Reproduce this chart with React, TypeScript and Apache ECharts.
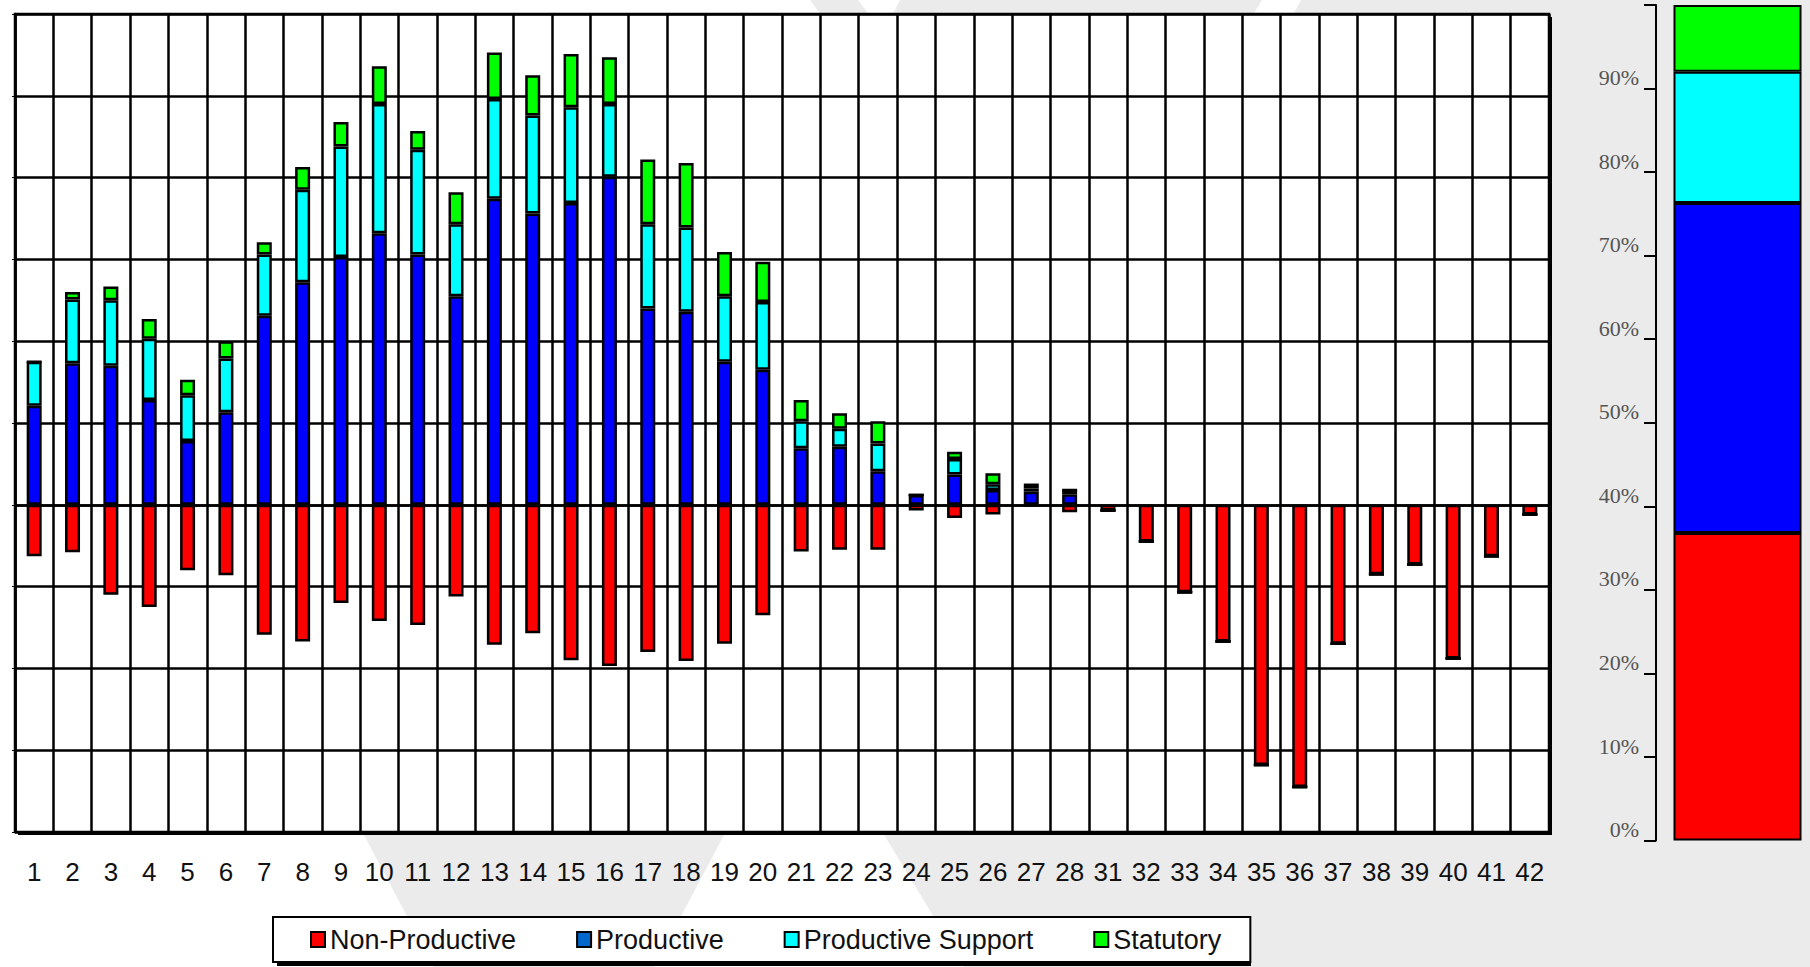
import React, { useEffect, useRef } from 'react';
import * as echarts from 'echarts';

const categories = ['1', '2', '3', '4', '5', '6', '7', '8', '9', '10', '11', '12', '13', '14', '15', '16', '17', '18', '19', '20', '21', '22', '23', '24', '25', '26', '27', '28', '31', '32', '33', '34', '35', '36', '37', '38', '39', '40', '41', '42'];

const nonProductive = [-6.3, -5.8, -11.0, -12.5, -8.0, -8.6, -15.9, -16.7, -12.0, -14.2, -14.7, -11.2, -17.1, -15.7, -19.0, -19.7, -18.0, -19.1, -17.0, -13.5, -5.7, -5.5, -5.5, -0.7, -1.6, -1.2, -0.2, -0.9, -0.7, -4.5, -10.7, -16.7, -31.8, -34.5, -17.0, -8.5, -7.3, -18.8, -6.3, -1.2];
const productive = [12.1, 17.3, 17.0, 12.8, 7.8, 11.3, 23.1, 27.2, 30.3, 33.2, 30.6, 25.5, 37.4, 35.6, 36.9, 40.1, 24.0, 23.6, 17.5, 16.5, 6.9, 7.1, 4.1, 1.2, 3.7, 1.8, 1.6, 1.3, 0, 0, 0, 0, 0, 0, 0, 0, 0, 0, 0, 0];
const productiveSupport = [5.4, 7.8, 8.0, 7.5, 5.6, 6.6, 7.5, 11.3, 13.5, 15.8, 12.8, 8.8, 12.2, 12.0, 11.7, 8.9, 10.3, 10.3, 8.0, 8.3, 3.3, 2.2, 3.4, 0, 1.9, 0.7, 0.4, 0.5, 0, 0, 0, 0, 0, 0, 0, 0, 0, 0, 0, 0];
const statutory = [0, 0.9, 1.7, 2.4, 1.9, 2.1, 1.5, 2.8, 3.0, 4.6, 2.3, 3.9, 5.7, 4.9, 6.5, 5.7, 7.9, 7.9, 5.4, 4.9, 2.6, 1.9, 2.7, 0, 0.9, 1.35, 0.6, 0, 0, 0, 0, 0, 0, 0, 0, 0, 0, 0, 0, 0];

// Share of total (right-hand 100% bar), same order as the series
const shareCategory = ['Total'];
const shareValues = [36.8, 39.5, 15.7, 8.0];

const seriesNames = ['Non-Productive', 'Productive', 'Productive Support', 'Statutory'];
const seriesColors = ['#ff0000', '#0000ff', '#00ffff', '#00ff00'];
const legendColors = ['#ff0000', '#0066cc', '#00ffff', '#00ff00'];

const GRAY = '#ebebeb';

export default function App() {
  const ref = useRef<HTMLDivElement>(null);

  useEffect(() => {
    if (!ref.current) return;
    const chart = echarts.init(ref.current, undefined, { renderer: 'svg' });
    const mainData = [nonProductive, productive, productiveSupport, statutory];

    const option: any = {
      animation: false,
      backgroundColor: '#ffffff',
      graphic: [
        { type: 'polygon', z: -10, shape: { points: [[810, 0], [858, 0], [873, 20], [825, 20]] }, style: { fill: GRAY } },
        { type: 'polygon', z: -10, shape: { points: [[900, 0], [1262, 0], [1250, 20], [890, 20]] }, style: { fill: GRAY } },
        { type: 'polygon', z: -10, shape: { points: [[1301, 0], [1810, 0], [1810, 967], [964, 967], [880, 828], [1290, 20]] }, style: { fill: GRAY } },
        { type: 'polygon', z: -10, shape: { points: [[340, 790], [748, 790], [654, 967], [434, 967]] }, style: { fill: GRAY } },
        { type: 'rect', z: -5, shape: { x: 18, y: 17, width: 1534, height: 818 }, style: { fill: '#000' } },
        { type: 'rect', z: -5, shape: { x: 277, y: 921, width: 974, height: 45 }, style: { fill: '#000' } },
      ],
      legend: {
        left: 273,
        top: 917,
        padding: [9, 29, 9, 37],
        itemGap: 60,
        itemWidth: 14,
        itemHeight: 15,
        icon: 'rect',
        backgroundColor: '#ffffff',
        borderColor: '#000',
        borderWidth: 2,
        borderRadius: 0,
        selectedMode: false,
        itemStyle: { borderColor: '#000', borderWidth: 2 },
        textStyle: { fontFamily: 'Liberation Sans, Arial, sans-serif', fontSize: 27, color: '#111' },
        data: seriesNames.map((n, i) => ({ name: n, itemStyle: { color: legendColors[i] } })),
      },
      grid: [
        {
          left: 15, top: 14, width: 1534, height: 818,
          show: true, backgroundColor: '#ffffff', borderColor: '#000', borderWidth: 2.5,
        },
        { left: 1665, top: 5, width: 145, height: 835.6, show: false },
      ],
      xAxis: [
        {
          gridIndex: 0,
          type: 'category',
          data: categories,
          boundaryGap: true,
          axisLine: { show: true, lineStyle: { color: '#000', width: 2.5 } },
          axisTick: { show: false },
          axisLabel: {
            interval: 0, margin: 27, fontSize: 26, color: '#111',
            fontFamily: 'Liberation Sans, Arial, sans-serif',
          },
          splitLine: { show: true, interval: 0, lineStyle: { color: '#000', width: 2.5 } },
        },
        { gridIndex: 1, type: 'category', data: shareCategory, show: false },
      ],
      yAxis: [
        {
          gridIndex: 0,
          type: 'value',
          min: -40, max: 60, interval: 10,
          axisLine: { show: true, lineStyle: { color: '#000', width: 2.5 } },
          axisTick: { show: true, length: 3, lineStyle: { color: '#000', width: 1 } },
          axisLabel: { show: false },
          splitLine: { show: true, lineStyle: { color: '#000', width: 2.5 } },
        },
        {
          gridIndex: 1,
          type: 'value',
          min: 0, max: 100, interval: 10,
          position: 'left',
          offset: 9,
          axisLine: { show: true, lineStyle: { color: '#000', width: 2 } },
          axisTick: { show: true, inside: false, length: 12, lineStyle: { color: '#000', width: 2 } },
          axisLabel: {
            margin: 17, fontSize: 22, color: '#555',
            fontFamily: 'Liberation Serif, Times New Roman, serif',
            verticalAlign: 'bottom',
            lineHeight: 22,
            formatter: (v: number) => (v === 100 ? '' : v + '%'),
          },
          splitLine: { show: false },
        },
      ],
      series: [
        ...seriesNames.map((name, i) => ({
          name,
          type: 'bar',
          stack: 'main',
          xAxisIndex: 0,
          yAxisIndex: 0,
          barWidth: 15,
          data: mainData[i],
          itemStyle: { color: seriesColors[i], borderColor: '#000', borderWidth: 2.5 },
          emphasis: { disabled: true },
        })),
        ...seriesNames.map((name, i) => ({
          name,
          type: 'bar',
          stack: 'share',
          xAxisIndex: 1,
          yAxisIndex: 1,
          barWidth: 128,
          data: [shareValues[i]],
          itemStyle: { color: seriesColors[i], borderColor: '#000', borderWidth: 2 },
          emphasis: { disabled: true },
        })),
      ],
    };

    chart.setOption(option);
    return () => chart.dispose();
  }, []);

  return <div ref={ref} style={{ position: 'absolute', left: 0, top: 0, width: 1810, height: 967 }} />;
}
